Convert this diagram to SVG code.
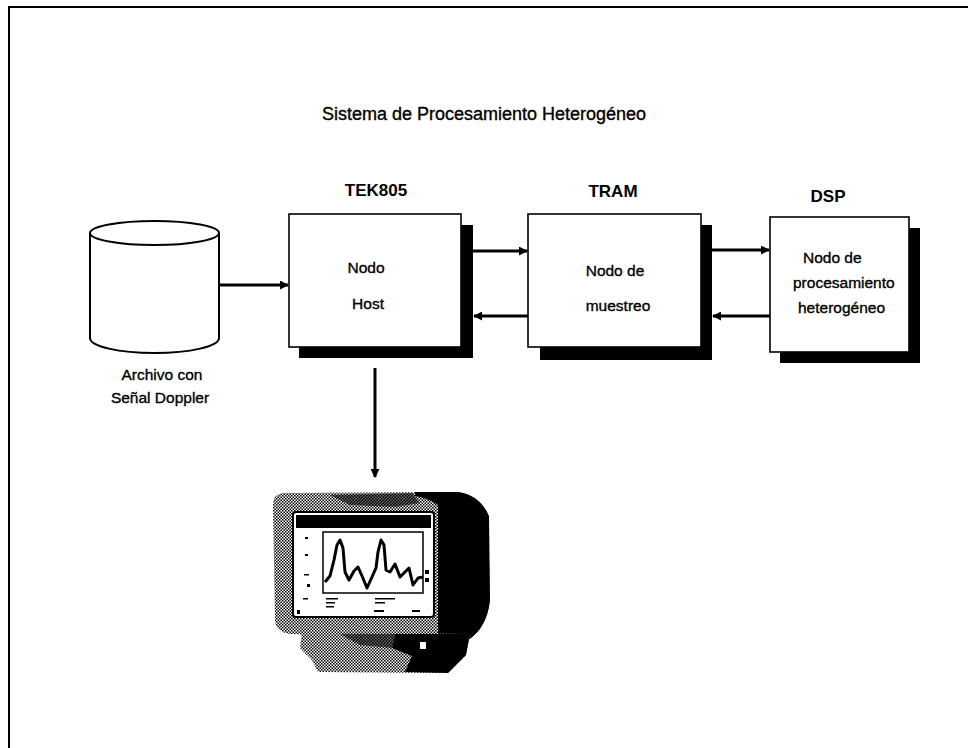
<svg xmlns="http://www.w3.org/2000/svg" width="968" height="748" viewBox="0 0 968 748">
  <style>
    .lbl { font-family: "Liberation Sans", Arial, sans-serif; fill: #000; stroke: #000; stroke-width: 0.35; }
    .title { font-size: 18px; }
    .head { font-size: 17px; font-weight: bold; stroke-width: 0; }
    .body { font-size: 15.5px; }
    .box { fill: #fff; stroke: #000; stroke-width: 1.6; }
    .shadow { fill: #000; }
    .conn { stroke: #000; stroke-width: 3; fill: none; }
  </style>
  <defs>
    <marker id="head" viewBox="0 0 10 10" refX="9" refY="5" markerWidth="3" markerHeight="3" orient="auto" markerUnits="strokeWidth">
      <path d="M0,0 L10,5 L0,10 Z" fill="#000"/>
    </marker>
    <!-- dithered grey used by the monitor casing -->
    <pattern id="dither" width="3" height="3" patternUnits="userSpaceOnUse">
      <rect width="3" height="3" fill="#fff"/>
      <rect x="0" y="0" width="1.5" height="1.5" fill="#000"/>
      <rect x="1.5" y="1.5" width="1.5" height="1.5" fill="#000"/>
    </pattern>
  </defs>

  <rect width="968" height="748" fill="#fff"/>

  <!-- outer frame (top and left edges) -->
  <path d="M9,748 L9,7 L968,7" fill="none" stroke="#000" stroke-width="2"/>

  <text class="lbl title" x="484" y="120" text-anchor="middle">Sistema de Procesamiento Heterogéneo</text>

  <!-- data file -->
  <g id="archivo">
    <path d="M90,233 L90,338 A64.5,15 0 0 0 219,338 L219,233" fill="#fff" stroke="#000" stroke-width="2"/>
    <ellipse cx="154.5" cy="233" rx="64.5" ry="12" fill="#fff" stroke="#000" stroke-width="2"/>
    <text class="lbl body" x="162" y="380" text-anchor="middle">Archivo con</text>
    <text class="lbl body" x="160" y="403" text-anchor="middle">Señal Doppler</text>
  </g>

  <!-- host node -->
  <g id="tek805">
    <text class="lbl head" x="376" y="196" text-anchor="middle">TEK805</text>
    <rect class="shadow" x="299" y="225" width="174" height="133"/>
    <rect class="box" x="289" y="214" width="172" height="133"/>
    <text class="lbl body" x="366" y="273" text-anchor="middle">Nodo</text>
    <text class="lbl body" x="368" y="309" text-anchor="middle">Host</text>
  </g>

  <!-- sampling node -->
  <g id="tram">
    <text class="lbl head" x="613" y="197" text-anchor="middle">TRAM</text>
    <rect class="shadow" x="540" y="225" width="172" height="135"/>
    <rect class="box" x="528" y="214" width="173" height="133"/>
    <text class="lbl body" x="615" y="276" text-anchor="middle">Nodo de</text>
    <text class="lbl body" x="618" y="311" text-anchor="middle">muestreo</text>
  </g>

  <!-- DSP node -->
  <g id="dsp">
    <text class="lbl head" x="828" y="202" text-anchor="middle">DSP</text>
    <rect class="shadow" x="780" y="228" width="140" height="135"/>
    <rect class="box" x="770" y="217" width="139" height="135"/>
    <text class="lbl body" x="803" y="263">Nodo de</text>
    <text class="lbl body" x="793" y="288">procesamiento</text>
    <text class="lbl body" x="798" y="313">heterogéneo</text>
  </g>

  <!-- display monitor -->
  <g id="monitor">
    <!-- casing -->
    <path d="M283,493 L455,492 Q478,494 488,515 L490,600 Q487,628 468,640 L290,634 Q276,632 275,620 L273,505 Q273,494 283,493 Z" fill="url(#dither)"/>
    <path d="M415,492 L458,492 Q480,495 489,516 L490,600 Q487,628 468,640 L438,636 L438,505 Q428,498 415,496 Z" fill="#000"/>
    <path d="M330,495 L412,493 L420,503 L395,507 L350,505 Z" fill="#000" opacity="0.6"/>
    <!-- stand -->
    <path d="M302,632 L470,634 L466,655 L448,673 L318,672 L312,660 L300,648 Z" fill="url(#dither)"/>
    <path d="M395,634 L470,634 L466,655 L448,673 L405,672 L412,656 L392,648 Z" fill="#000"/>
    <path d="M340,634 L395,634 L392,648 L360,645 Z" fill="#000" opacity="0.6"/>
    <rect x="420" y="642" width="6" height="7" fill="#fff"/>
    <!-- screen bezel -->
    <rect x="293" y="512" width="141" height="105" rx="3" fill="#fff" stroke="#000" stroke-width="2"/>
    <rect x="296" y="515" width="135" height="13" fill="#000"/>
    <!-- plot window -->
    <rect x="323" y="532" width="100" height="61" fill="#fff" stroke="#000" stroke-width="1.5"/>
    <g fill="#000">
      <rect x="305" y="537" width="3" height="2"/>
      <rect x="305" y="554" width="3" height="2"/>
      <rect x="304" y="574" width="5" height="1.5"/>
      <rect x="307" y="584" width="3" height="3"/>
      <rect x="303" y="598" width="5" height="1.5"/>
      <rect x="326" y="598" width="12" height="1.5"/>
      <rect x="326" y="602" width="9" height="1.5"/>
      <rect x="326" y="606" width="8" height="1.5"/>
      <rect x="375" y="598" width="20" height="1.5"/>
      <rect x="375" y="602" width="10" height="1.5"/>
      <rect x="374" y="610" width="10" height="2"/>
      <rect x="412" y="610" width="8" height="2"/>
      <rect x="297" y="610" width="3" height="4"/>
      <rect x="425" y="570" width="4" height="4"/>
      <rect x="425" y="578" width="4" height="4"/>
    </g>
    <!-- waveform -->
    <polyline points="325,582 330,576 334,560 337,545 340,540 343,548 345,572 349,580 354,571 358,567 362,576 367,588 372,577 376,568 378,552 381,540 384,545 386,570 390,572 395,564 400,577 405,572 409,568 413,585 418,578 423,577" fill="none" stroke="#000" stroke-width="3" stroke-linejoin="round"/>
  </g>

  <!-- connectors -->
  <g id="connectors">
    <line class="conn" x1="220" y1="285" x2="288" y2="285" marker-end="url(#head)"/>
    <line class="conn" x1="473" y1="251" x2="527" y2="251" marker-end="url(#head)"/>
    <line class="conn" x1="528" y1="316" x2="474" y2="316" marker-end="url(#head)"/>
    <line class="conn" x1="712" y1="250" x2="769" y2="250" marker-end="url(#head)"/>
    <line class="conn" x1="770" y1="316" x2="713" y2="316" marker-end="url(#head)"/>
    <line class="conn" x1="375" y1="368" x2="375" y2="477" marker-end="url(#head)"/>
  </g>
</svg>
